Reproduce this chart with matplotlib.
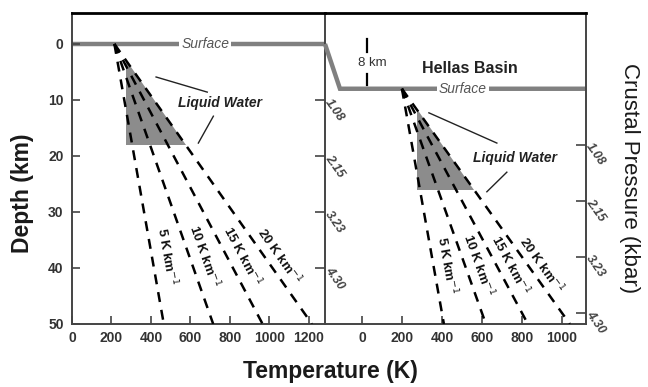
import numpy as np
import matplotlib
matplotlib.use("Agg")
import matplotlib.pyplot as plt

plt.rcParams['font.family'] = ['Liberation Sans', 'DejaVu Sans']

# Data
gradients = [5, 10, 15, 20]                 # K per km
grad_labels = ['5 K km$^{-1}$', '10 K km$^{-1}$', '15 K km$^{-1}$', '20 K km$^{-1}$']
depth_max = 50                              # km

# left panel: global surface
surf_depth_left = 0
t_surf_left = 215                           # K at the surface
# right panel: Hellas Basin floor, 8 km deeper
surf_depth_right = 8
t_surf_right = 200

t_melt = 273                                # K, liquid water lower bound
water_depth = 18                            # km below local surface

depth_ticks = [0, 10, 20, 30, 40, 50]
temp_ticks_left = [0, 200, 400, 600, 800, 1000, 1200]
temp_ticks_right = [0, 200, 400, 600, 800, 1000]
pressure_labels = ['1.08', '2.15', '3.23', '4.30']
pressure_depths = [10, 20, 30, 40]          # km below local surface

DARK = '#333333'
GRAY = '#808080'
SHADE = '#8c8c8c'

fig = plt.figure(figsize=(6.48, 3.87), dpi=100)
ax1 = fig.add_axes([0.111, 0.163, 0.3905, 0.803])
ax2 = fig.add_axes([0.5015, 0.163, 0.4025, 0.803])
ax2.patch.set_visible(False)

ax1.set_xlim(0, 1281)
ax2.set_xlim(-185, 1120)
for ax in (ax1, ax2):
    ax.set_ylim(depth_max, -5.5)
    for s in ('left', 'right', 'bottom'):
        ax.spines[s].set_color('#444444')
        ax.spines[s].set_linewidth(1.4)
    ax.spines['top'].set_color('black')
    ax.spines['top'].set_linewidth(2)
ax2.spines['left'].set_visible(False)


def draw_panel(ax, z0, t0, label_depth, label_dx):
    z = np.array([z0, depth_max])
    for g, lab in zip(gradients, grad_labels):
        t = t0 + g * (z - z0)
        ax.plot(t, z, color='black', lw=1.8, dashes=(4, 3.2), zorder=3)
        # rotate label along the line
        p1 = ax.transData.transform((t0, z0))
        p2 = ax.transData.transform((t0 + g * 10, z0 + 10))
        ang = np.degrees(np.arctan2(p2[1] - p1[1], p2[0] - p1[0]))
        tl = t0 + g * (label_depth - z0)
        ax.annotate(lab, (tl, label_depth), xytext=(label_dx, 0),
                    textcoords='offset points', rotation=ang,
                    rotation_mode='anchor', ha='center', va='center',
                    fontsize=9.5, fontweight='bold', color='#111111', zorder=4)
    # liquid water region: above water_depth, warmer than melting, under 20 K/km
    g = gradients[-1]
    z_top = z0 + (t_melt - t0) / g
    z_bot = z0 + water_depth
    poly_t = [t_melt, t_melt, t0 + g * water_depth]
    poly_z = [z_top, z_bot, z_bot]
    ax.fill(poly_t, poly_z, color=SHADE, lw=0, zorder=2)


fig.canvas.draw()
draw_panel(ax1, surf_depth_left, t_surf_left, 38, 11)
draw_panel(ax2, surf_depth_right, t_surf_right, 39.5, 10)

# surface lines
ax1.plot([0, 1281], [0, 0], color=GRAY, lw=3.2, solid_capstyle='butt',
         clip_on=False, zorder=1)
ax2.plot([-185, -110, 1120], [0, 8, 8], color=GRAY, lw=3.2,
         solid_capstyle='butt', solid_joinstyle='miter', clip_on=False, zorder=1)
ax1.text(675, 0, 'Surface', style='italic', fontsize=10, color='#555555',
         ha='center', va='center', zorder=5,
         bbox=dict(facecolor='white', edgecolor='none', pad=1.5))
ax2.text(505, 8, 'Surface', style='italic', fontsize=10, color='#555555',
         ha='center', va='center', zorder=5,
         bbox=dict(facecolor='white', edgecolor='none', pad=1.5))

# 8 km marker and Hellas label
ax2.plot([25, 25], [-0.8, 1.5], color='black', lw=1.6)
ax2.plot([25, 25], [5.3, 7.3], color='black', lw=1.6)
ax2.text(50, 3.4, '8 km', fontsize=9.5, color='#333333', ha='center',
         va='center')
ax2.text(540, 4.3, 'Hellas Basin', fontsize=11.5, fontweight='bold',
         color='#222222', ha='center', va='center')

# Liquid Water labels with leader lines
ax1.text(751, 10.5, 'Liquid Water', fontsize=10, fontweight='bold',
         style='italic', color='#222222', ha='center', va='center')
ax1.plot([426, 685], [5.9, 8.6], color='#222222', lw=1)
ax1.plot([716, 640], [12.9, 17.7], color='#222222', lw=1)
ax2.text(765, 20.4, 'Liquid Water', fontsize=10, fontweight='bold',
         style='italic', color='#222222', ha='center', va='center')
ax2.plot([335, 675], [12.3, 17.7], color='#222222', lw=1)
ax2.plot([725, 625], [22.9, 26.4], color='#222222', lw=1)

# ticks
ax1.set_yticks(depth_ticks)
ax1.set_yticklabels([str(d) for d in depth_ticks])
ax1.set_xticks(temp_ticks_left)
ax2.set_xticks(temp_ticks_right)
for ax in (ax1, ax2):
    ax.tick_params(direction='in', length=6, width=1.2, color='#444444',
                   labelsize=10, labelcolor=DARK)
    for lab in ax.get_xticklabels():
        lab.set_fontweight('bold')
for lab in ax1.get_yticklabels():
    lab.set_fontweight('bold')
ax1.tick_params(axis='y', pad=6)
ax1.tick_params(axis='x', pad=5)
ax2.tick_params(axis='x', pad=5)

# pressure axes (right side of each panel)
for ax, z0 in ((ax1, surf_depth_left), (ax2, surf_depth_right)):
    sec = ax.secondary_yaxis('right')
    sec.set_yticks([z0 + d for d in pressure_depths])
    sec.set_yticklabels(pressure_labels)
    sec.spines['right'].set_visible(False)
    sec.tick_params(direction='in', length=7, width=1.2, color='#444444',
                    labelsize=9, labelcolor='#444444', pad=2)
    for lab in sec.get_yticklabels():
        lab.set_rotation(-55)
        lab.set_rotation_mode('anchor')
        lab.set_ha('left')
        lab.set_va('center')
        lab.set_fontweight('bold')
        lab.set_fontstyle('italic')
ax2.yaxis.set_visible(False)

fig.text(0.035, 0.50, 'Depth (km)', rotation=90, fontsize=16.5,
         fontweight='bold', color='#1a1a1a', ha='center', va='center')
fig.text(0.51, 0.04, 'Temperature (K)', fontsize=16.5, fontweight='bold',
         color='#1a1a1a', ha='center', va='center')
fig.text(0.972, 0.54, 'Crustal Pressure (kbar)', rotation=-90, fontsize=16,
         color='#1a1a1a', ha='center', va='center')

fig.savefig('out.png', dpi=100)
